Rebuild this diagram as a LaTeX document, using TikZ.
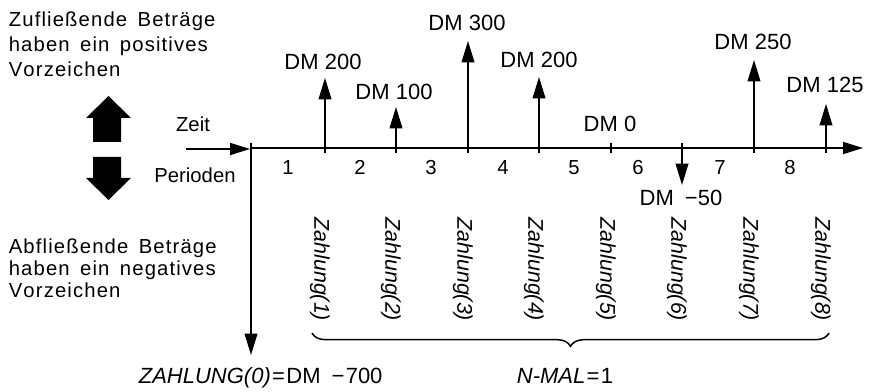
\documentclass[tikz,border=0pt]{standalone}
\usepackage{fontspec}
\setmainfont{Liberation Sans}
\usetikzlibrary{arrows.meta,decorations.pathreplacing}
\newcommand\lspx[1]{\lspA#1\relax}
\def\lspA#1{\ifx#1\relax\else#1\kern0.85pt\expandafter\lspA\fi}
\newcommand\wsp{\hspace{7pt}}
\begin{document}
\begin{tikzpicture}[x=0.75pt,y=-0.75pt,
  line width=1.3pt,
  sidetxt/.style={anchor=base west,inner sep=0pt,font=\fontsize{15.2}{18}\selectfont},
  amt/.style={anchor=base,inner sep=0pt,font=\fontsize{16.5}{19}\selectfont},
  per/.style={anchor=base,inner sep=0pt,font=\fontsize{15.2}{18}\selectfont},
  zl/.style={rotate=-90,anchor=west,inner sep=0pt,font=\itshape\fontsize{16}{19}\selectfont},
  pay/.style={-{Triangle[length=16pt,width=9.5pt]}},
  axisarr/.style={-{Triangle[length=15pt,width=9pt]}},
  tickmark/.style={line width=1.2pt}]
\useasboundingbox (0,0) rectangle (874,392);

% side texts
\node[sidetxt] (z1) at (8,27) {\lspx{Zufließende}\wsp\lspx{Beträge}};
\node[sidetxt] (z2) at (8,52) {\lspx{haben}\wsp\lspx{ein}\wsp\lspx{positives}};
\node[sidetxt] (z3) at (8,77) {\lspx{Vorzeichen}};
\node[sidetxt] (a1) at (8,253) {\lspx{Abfließende}\wsp\lspx{Beträge}};
\node[sidetxt] (a2) at (8,275) {\lspx{haben}\wsp\lspx{ein}\wsp\lspx{negatives}};
\node[sidetxt] (a3) at (8,297) {\lspx{Vorzeichen}};

% big arrows
\fill (86,118) -- (108.5,96) -- (131,118) -- (121,118) -- (121,142) -- (93,142) -- (93,118) -- cycle;
\fill (93,157) -- (121,157) -- (121,178) -- (131,178) -- (108.5,200) -- (86,178) -- (93,178) -- cycle;

% axis
\coordinate (in) at (186,149);
\coordinate (o) at (251,148);
\coordinate (otop) at (251,143);
\coordinate (obot) at (251,355);
\coordinate (end) at (863,148);
\draw[axisarr] (in) -- (250,149);
\draw[axisarr] (o) -- (end);
\draw[pay] (otop) -- (obot);

\node[per] (zeit) at (193,132) {Zeit};
\node[per] (perioden) at (195,182) {Perioden};

% ticks
\foreach \n/\x in {1/325,2/396,3/468,4/539,5/611,6/682,7/754,8/826}{
  \coordinate (t\n) at (\x,148);
  \draw[tickmark] (\x,143) -- (\x,153);
}

% period numbers
\foreach \n/\x in {1/288,2/360,3/431,4/503,5/574,6/638,7/720,8/790}{
  \node[per] (p\n) at (\x,175) {\n};
}

% payments
\coordinate (h1) at (325,78);
\coordinate (h2) at (396,107);
\coordinate (h3) at (468,41);
\coordinate (h4) at (539,77);
\coordinate (h6) at (682,185);
\coordinate (h7) at (754,60);
\coordinate (h8) at (826,104);
\draw[pay] (t1) -- (h1);
\draw[pay] (t2) -- (h2);
\draw[pay] (t3) -- (h3);
\draw[pay] (t4) -- (h4);
\draw[pay] (682,143) -- (h6);
\draw[pay] (t7) -- (h7);
\draw[pay] (t8) -- (h8);

\node[amt] (d1) at (323,70) {DM 200};
\node[amt] (d2) at (394,100) {DM 100};
\node[amt] (d3) at (467,31) {DM 300};
\node[amt] (d4) at (539,68) {DM 200};
\node[amt] (d5) at (610,132) {DM 0};
\node[amt] (d6) at (681,205) {DM\enspace−50};
\node[amt] (d7) at (753,50) {DM 250};
\node[amt] (d8) at (825,93) {DM 125};

% Zahlung labels
\foreach \n/\x in {1/320,2/391,3/463,4/534,5/606,6/677,7/749,8/821}{
  \node[zl] (zl\n) at (\x,217) {Zahlung(\n)};
}

% brace
\coordinate (bl) at (312,333);
\coordinate (br) at (829,333);
\draw[line width=1.1pt,decorate,decoration={brace,mirror,amplitude=10pt}] (bl) -- (br);

\node[amt,anchor=base west] (zahl0) at (138,383) {{\itshape ZAHLUNG(0)}\kern1pt=\kern1pt DM\enspace−\kern1pt700};
\node[amt] (nmal) at (565,383) {{\itshape N-MAL}\kern1pt=\kern1pt 1};
\end{tikzpicture}
\end{document}
